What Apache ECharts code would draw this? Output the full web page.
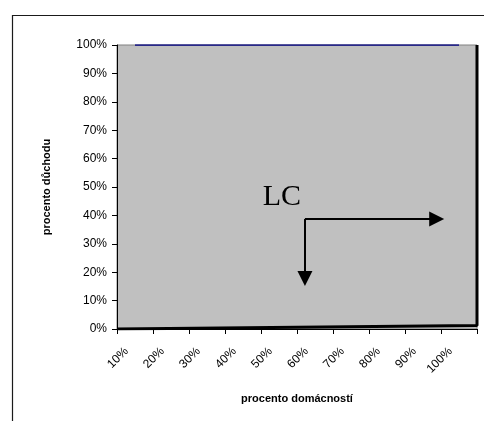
<!DOCTYPE html>
<html>
<head>
<meta charset="utf-8">
<script src="https://cdn.jsdelivr.net/npm/echarts@6/dist/echarts.min.js"></script>
<style>
html,body{margin:0;padding:0;background:#fff;}
#chart{width:484px;height:421px;}
</style>
</head>
<body>
<div id="chart"></div>
<script>
var categories = ['10%','20%','30%','40%','50%','60%','70%','80%','90%','100%'];
var equalityLine = [100,100,100,100,100,100,100,100,100,100];
var lorenzX = [0, 100, 100];
var lorenzY = [0, 1.2, 100];
var arrowCorner = [52.2, 38.7];
var arrowRightEnd = [88.8, 38.7];
var arrowDownEnd = [52.2, 17.8];
var labelPos = [45.8, 46.5];

var lorenzData = lorenzX.map(function(x, i){ return [x, lorenzY[i]]; });

var chart = echarts.init(document.getElementById('chart'), null, {renderer:'canvas'});
chart.setOption({
  animation: false,
  backgroundColor: '#ffffff',
  graphic: [{
    type: 'rect',
    shape: {x: 12.5, y: 15.5, width: 490, height: 430},
    style: {fill: 'none', stroke: '#1a1a1a', lineWidth: 1.2},
    silent: true
  }],
  grid: {
    left: 117, right: 7, top: 45, bottom: 92,
    show: true,
    backgroundColor: '#c0c0c0',
    borderColor: '#808080',
    borderWidth: 1
  },
  xAxis: [{
    type: 'category',
    data: categories,
    boundaryGap: true,
    name: 'procento domácností',
    nameLocation: 'middle',
    nameGap: 64,
    nameTextStyle: {fontFamily: 'Liberation Sans, Arial', fontSize: 11, fontWeight: 'bold', color: '#000'},
    axisLine: {lineStyle: {color: '#000', width: 1}},
    axisTick: {show: true, length: 5, lineStyle: {color: '#000'}},
    axisLabel: {rotate: 45, margin: 12, padding: [0, 12, 0, 0], fontFamily: 'Liberation Sans, Arial', fontSize: 12, color: '#000', interval: 0},
    splitLine: {show: false}
  }, {
    type: 'value',
    min: 0, max: 100,
    show: false
  }],
  yAxis: {
    type: 'value',
    min: 0, max: 100, interval: 10,
    name: 'procento důchodu',
    nameLocation: 'middle',
    nameGap: 65,
    nameRotate: 90,
    nameTextStyle: {fontFamily: 'Liberation Sans, Arial', fontSize: 11, fontWeight: 'bold', color: '#000'},
    axisLine: {show: true, lineStyle: {color: '#000', width: 1}},
    axisTick: {show: true, length: 5, lineStyle: {color: '#000'}},
    axisLabel: {formatter: '{value}%', margin: 10, fontFamily: 'Liberation Sans, Arial', fontSize: 12, color: '#000'},
    splitLine: {show: false}
  },
  series: [{
    name: 'equality',
    type: 'line',
    xAxisIndex: 0,
    data: equalityLine,
    showSymbol: false,
    lineStyle: {color: '#000080', width: 1.5}
  }, {
    name: 'LC',
    type: 'line',
    xAxisIndex: 1,
    data: lorenzData,
    showSymbol: false,
    lineStyle: {color: '#000', width: 3},
    markLine: {
      silent: true,
      symbol: ['none', 'triangle'],
      symbolSize: 15,
      lineStyle: {color: '#000', width: 2, type: 'solid'},
      label: {show: false},
      data: [
        [{coord: arrowCorner}, {coord: arrowRightEnd}],
        [{coord: arrowCorner}, {coord: arrowDownEnd}]
      ]
    },
    markPoint: {
      silent: true,
      symbol: 'circle',
      symbolSize: 0,
      data: [{coord: labelPos}],
      label: {show: true, formatter: 'LC', position: 'inside', fontFamily: 'Liberation Serif, Times New Roman', fontSize: 30, color: '#000'}
    }
  }]
});
</script>
</body>
</html>
